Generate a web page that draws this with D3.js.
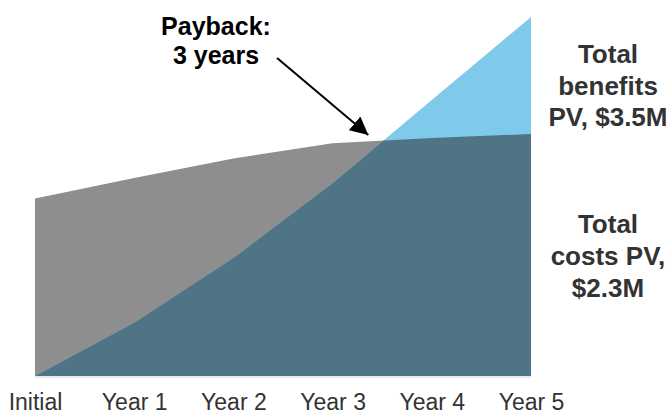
<!DOCTYPE html>
<html>
<head>
<meta charset="utf-8">
<script src="https://cdn.jsdelivr.net/npm/d3@7"></script>
<style>
  html, body { margin: 0; padding: 0; background: #fff; }
  svg { display: block; }
</style>
</head>
<body>
<svg id="chart" width="671" height="415"></svg>
<script>
const categories = ["Initial", "Year 1", "Year 2", "Year 3", "Year 4", "Year 5"];
const costs    = [1.73, 1.93, 2.12, 2.27, 2.32, 2.36];   // cumulative costs PV, $M
const benefits = [0.00, 0.52, 1.15, 1.88, 2.69, 3.50];   // cumulative benefits PV, $M
const benefitsLabel = ["Total", "benefits", "PV, $3.5M"];
const costsLabel = ["Total", "costs PV,", "$2.3M"];
const paybackLabel = ["Payback:", "3 years"];

const svg = d3.select("#chart");

const x = d3.scalePoint().domain(categories).range([35, 531]);
const y = d3.scaleLinear().domain([0, 3.5]).range([376, 17]);
const xi = d3.scaleLinear().domain([0, categories.length - 1]).range(x.range());

const costData = categories.map((c, i) => ({ c, v: costs[i] }));
const benData = categories.map((c, i) => ({ c, v: benefits[i] }));

const area = d3.area().x(d => x(d.c)).y0(y(0)).y1(d => y(d.v));

// baseline shadow line
svg.append("line")
  .attr("x1", x(categories[0])).attr("x2", x(categories[categories.length - 1]))
  .attr("y1", y(0) + 1).attr("y2", y(0) + 1)
  .attr("stroke", "#e2e2e2").attr("stroke-width", 1.5);

const defs = svg.append("defs");
defs.append("clipPath").attr("id", "costClip")
  .append("path").attr("d", area(costData));

defs.append("marker")
  .attr("id", "arrow")
  .attr("viewBox", "0 0 10 10")
  .attr("refX", 10).attr("refY", 5)
  .attr("markerWidth", 9).attr("markerHeight", 9)
  .attr("markerUnits", "strokeWidth")
  .attr("orient", "auto")
  .append("path").attr("d", "M0,0 L10,5 L0,10 Z").attr("fill", "#000");

// costs area (gray)
svg.append("path").attr("d", area(costData)).attr("fill", "#8e8e8e");
// benefits area (light blue)
svg.append("path").attr("d", area(benData)).attr("fill", "#7fcaeb");
// overlap (dark teal)
svg.append("path").attr("d", area(benData)).attr("fill", "#4f7485")
  .attr("clip-path", "url(#costClip)");

// x axis labels
const axis = d3.axisBottom(x).tickSize(0).tickPadding(0);
const gx = svg.append("g").attr("transform", `translate(0,${y(0)})`).call(axis);
gx.select(".domain").remove();
gx.selectAll("text")
  .attr("y", 33.5).attr("dy", 0)
  .attr("font-family", "Liberation Sans, Arial, sans-serif")
  .attr("font-size", 23)
  .attr("fill", "#333");

// multi-line bold labels
function multiline(lines, cx, baseline0, lh, size, color) {
  const t = svg.append("text")
    .attr("text-anchor", "middle")
    .attr("font-family", "Liberation Sans, Arial, sans-serif")
    .attr("font-weight", "bold")
    .attr("font-size", size)
    .attr("fill", color);
  lines.forEach((l, i) => {
    t.append("tspan").attr("x", cx).attr("y", baseline0 + i * lh).text(l);
  });
}
multiline(benefitsLabel, 608, 63, 31.5, 26, "#333");
multiline(costsLabel, 608, 233, 32, 26, "#333");
multiline(paybackLabel, 216, 35, 29, 25, "#000");

// payback arrow (positioned in data space near the crossover)
svg.append("line")
  .attr("x1", xi(2.44)).attr("y1", y(3.10))
  .attr("x2", xi(3.36)).attr("y2", y(2.35))
  .attr("stroke", "#000").attr("stroke-width", 2)
  .attr("marker-end", "url(#arrow)");
</script>
</body>
</html>
